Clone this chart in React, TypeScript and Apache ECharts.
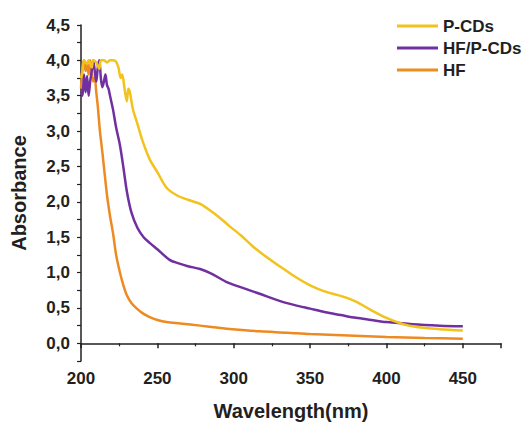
import React, { useEffect, useRef } from "react";
import * as echarts from "echarts";

const seriesNames = ["P-CDs", "HF/P-CDs", "HF"];
const colors = ["#F2C21D", "#7030A0", "#EE8A22"];

const pcdsX = [200, 201, 202, 204, 205, 207, 208, 210, 212, 213, 215, 217, 219, 221, 223, 224.5, 226, 227, 228.5, 230, 231, 232, 234, 237, 240, 245, 250, 256, 263, 270, 278, 285, 290, 297, 305, 312, 319, 330, 341, 350, 360, 370, 380, 390, 400, 411, 420, 435, 450];
const pcdsY = [3.75, 3.85, 4.0, 3.95, 4.0, 3.9, 4.0, 3.97, 3.88, 4.0, 4.0, 3.97, 4.0, 4.0, 3.98, 3.9, 3.75, 3.8, 3.6, 3.42, 3.6, 3.55, 3.31, 3.1, 2.88, 2.6, 2.42, 2.2, 2.09, 2.03, 1.97, 1.87, 1.79, 1.66, 1.52, 1.38, 1.26, 1.09, 0.93, 0.82, 0.73, 0.67, 0.59, 0.47, 0.36, 0.27, 0.23, 0.2, 0.18];

const hfpX = [200, 201, 202, 203, 204, 205, 206, 207, 208, 209, 210, 211, 212, 213, 214, 215, 216, 217, 218, 219, 221, 223, 225.5, 228, 230, 233, 237, 241, 245, 250, 258, 264, 270, 278, 285, 295, 305, 317, 330, 340, 350, 360, 370, 380, 390, 400, 417, 435, 450];
const hfpY = [3.55, 3.5, 3.8, 3.55, 3.78, 3.5, 3.7, 3.85, 4.0, 3.85, 3.7, 3.9, 4.0, 3.75, 3.62, 3.7, 3.8, 3.65, 3.6, 3.5, 3.3, 3.05, 2.8, 2.45, 2.15, 1.85, 1.63, 1.5, 1.42, 1.33, 1.18, 1.13, 1.09, 1.05, 0.99, 0.87, 0.79, 0.7, 0.6, 0.54, 0.49, 0.44, 0.4, 0.36, 0.33, 0.3, 0.27, 0.25, 0.24];

const hfX = [200, 201, 202, 203, 204, 205, 206, 207, 208, 209, 210, 211, 212.4, 214, 217, 219, 221, 223, 225.5, 228, 230, 233, 236.6, 240, 245, 250, 256, 265, 278, 290, 299, 317, 335, 350, 375, 400, 425, 450];
const hfY = [3.6, 3.9, 4.0, 3.85, 3.95, 3.8, 4.0, 3.85, 3.7, 3.75, 3.55, 3.35, 3.0, 2.7, 2.1, 1.8, 1.55, 1.25, 1.0, 0.8, 0.68, 0.57, 0.49, 0.43, 0.37, 0.33, 0.3, 0.28, 0.25, 0.22, 0.2, 0.17, 0.15, 0.13, 0.11, 0.09, 0.075, 0.065];

const xMin = 200, xMax = 475, xStep = 50;
const yMin = -0.25, yMax = 4.5, yStep = 0.25;

const zip = (xs: number[], ys: number[]) => xs.map((x, i) => [x, ys[i]]);

const FONT = "Liberation Sans, Arial, sans-serif";
const INK = "#231f20";

export default function App() {
  const ref = useRef<HTMLDivElement>(null);
  useEffect(() => {
    document.body.style.margin = "0";
    if (!ref.current) return;
    const chart = echarts.init(ref.current, undefined, { renderer: "svg" });
    const data = [zip(pcdsX, pcdsY), zip(hfpX, hfpY), zip(hfX, hfY)];
    chart.setOption({
      animation: false,
      backgroundColor: "#ffffff",
      grid: { left: 81, right: 22, top: 25, bottom: 62 },
      legend: {
        orient: "vertical",
        left: 392,
        top: 11,
        icon: "rect",
        itemWidth: 41,
        itemHeight: 3,
        itemGap: 2,
        data: seriesNames,
        textStyle: { fontFamily: FONT, fontWeight: "bold", fontSize: 17, color: INK, lineHeight: 20 },
      },
      xAxis: {
        type: "value",
        min: xMin,
        max: xMax,
        interval: xStep,
        name: "Wavelength(nm)",
        nameLocation: "middle",
        nameGap: 40,
        nameTextStyle: { fontFamily: FONT, fontWeight: "bold", fontSize: 20, color: INK },
        axisLine: { show: true, lineStyle: { color: INK, width: 1.5 } },
        axisTick: { show: true, length: 5, lineStyle: { color: INK, width: 1.5 } },
        minorTick: { show: true, splitNumber: 2, length: 3, lineStyle: { color: INK, width: 1.2 } },
        splitLine: { show: false },
        axisLabel: {
          fontFamily: FONT,
          fontWeight: "bold",
          fontSize: 17,
          color: INK,
          margin: 9,
          formatter: (v: number) => (v % 50 === 0 ? String(v) : ""),
        },
      },
      yAxis: {
        type: "value",
        min: yMin,
        max: yMax,
        interval: yStep,
        name: "Absorbance",
        nameLocation: "middle",
        nameGap: 52,
        nameTextStyle: { fontFamily: FONT, fontWeight: "bold", fontSize: 20, color: INK },
        axisLine: { show: true, lineStyle: { color: INK, width: 1.5 } },
        axisTick: { show: true, length: 4, lineStyle: { color: INK, width: 1.2 } },
        splitLine: { show: false },
        axisLabel: {
          fontFamily: FONT,
          fontWeight: "bold",
          fontSize: 17,
          color: INK,
          margin: 11,
          formatter: (v: number) => {
            const r = Math.round(v * 100);
            if (r % 50 !== 0 || r < 0) return "";
            return (r / 100).toFixed(1).replace(".", ",");
          },
        },
      },
      series: seriesNames.map((n, i) => ({
        name: n,
        type: "line",
        data: data[i],
        symbol: "none",
        smooth: 0.3,
        lineStyle: { color: colors[i], width: 2.5 },
        itemStyle: { color: colors[i] },
        z: 3 - i,
      })),
    });
    return () => chart.dispose();
  }, []);
  return <div ref={ref} style={{ width: 523, height: 426 }} />;
}
